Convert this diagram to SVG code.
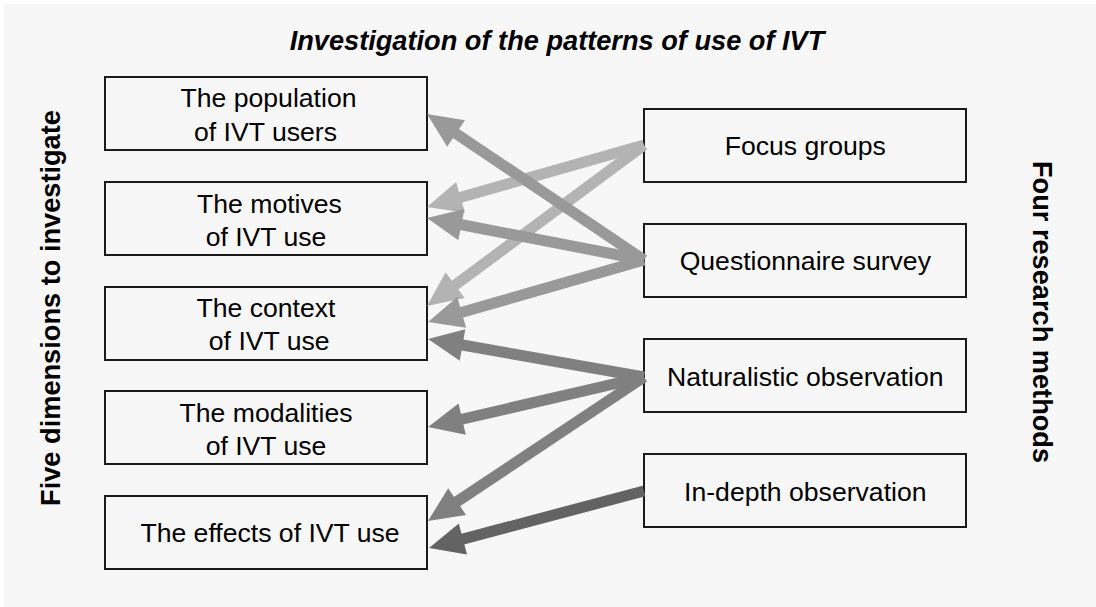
<svg xmlns="http://www.w3.org/2000/svg" width="1096" height="607" viewBox="0 0 1096 607">
<style>
.box{fill:#f7f7f7;stroke:#1a1a1a;stroke-width:2}
.t{font-family:"Liberation Sans",Arial,sans-serif;font-size:26.6px;fill:#000;text-anchor:middle}
.h{font-family:"Liberation Sans",Arial,sans-serif;font-size:27.2px;font-weight:bold;fill:#000;text-anchor:middle}
.c{fill:none;stroke-width:11;stroke-linecap:butt}
.c1{stroke:#b3b3b3}.c2{stroke:#999999}.c3{stroke:#808080}.c4{stroke:#636363}
</style>
<defs>
<marker id="a1" markerUnits="userSpaceOnUse" markerWidth="35" markerHeight="32" refX="6" refY="16" orient="auto" overflow="visible"><path d="M0,0 L35,16 L0,32 z" fill="#b3b3b3"/></marker>
<marker id="a2" markerUnits="userSpaceOnUse" markerWidth="35" markerHeight="32" refX="6" refY="16" orient="auto" overflow="visible"><path d="M0,0 L35,16 L0,32 z" fill="#999999"/></marker>
<marker id="a3" markerUnits="userSpaceOnUse" markerWidth="35" markerHeight="32" refX="6" refY="16" orient="auto" overflow="visible"><path d="M0,0 L35,16 L0,32 z" fill="#808080"/></marker>
<marker id="a4" markerUnits="userSpaceOnUse" markerWidth="35" markerHeight="32" refX="6" refY="16" orient="auto" overflow="visible"><path d="M0,0 L35,16 L0,32 z" fill="#636363"/></marker>
</defs>
<rect x="0" y="0" width="1096" height="607" fill="#ffffff"/>
<rect x="4" y="4" width="1092" height="603" fill="#f7f7f7"/>
<text class="h" x="557" y="50" font-style="italic">Investigation of the patterns of use of IVT</text>
<text class="h" transform="translate(60,308) rotate(-90)">Five dimensions to investigate</text>
<text class="h" transform="translate(1033,312) rotate(90)">Four research methods</text>
<g id="n-population"><rect class="box" x="105" y="77" width="322" height="73"/><text class="t" x="268.5" y="106.7">The population</text><text class="t" x="265.5" y="140.7">of IVT users</text></g>
<g id="n-motives"><rect class="box" x="105" y="182" width="322" height="73"/><text class="t" x="269.5" y="213.3">The motives</text><text class="t" x="266" y="245.7">of IVT use</text></g>
<g id="n-context"><rect class="box" x="105" y="287" width="322" height="73"/><text class="t" x="266" y="316.7">The context</text><text class="t" x="269.2" y="350">of IVT use</text></g>
<g id="n-modalities"><rect class="box" x="105" y="391" width="322" height="73"/><text class="t" x="266" y="421.7">The modalities</text><text class="t" x="266" y="455">of IVT use</text></g>
<g id="n-effects"><rect class="box" x="105" y="496" width="322" height="73"/><text class="t" x="270" y="541.7">The effects of IVT use</text></g>
<g id="n-focus"><rect class="box" x="644" y="109" width="322" height="73"/><text class="t" x="805.3" y="155">Focus groups</text></g>
<g id="n-questionnaire"><rect class="box" x="644" y="224" width="322" height="73"/><text class="t" x="805.3" y="270">Questionnaire survey</text></g>
<g id="n-naturalistic"><rect class="box" x="644" y="339" width="322" height="73"/><text class="t" x="805.3" y="385.5">Naturalistic observation</text></g>
<g id="n-indepth"><rect class="box" x="644" y="454" width="322" height="73"/><text class="t" x="805.3" y="500.5">In-depth observation</text></g>
<g id="connectors">
<line class="c c1" x1="644" y1="145" x2="454.8" y2="199.0" marker-end="url(#a1)"/>
<line class="c c1" x1="644" y1="145" x2="450.3" y2="288.7" marker-end="url(#a1)"/>
<line class="c c2" x1="644" y1="260" x2="451.1" y2="130.2" marker-end="url(#a2)"/>
<line class="c c2" x1="644" y1="260" x2="455.5" y2="223.5" marker-end="url(#a2)"/>
<line class="c c2" x1="644" y1="260" x2="455.9" y2="314.0" marker-end="url(#a2)"/>
<line class="c c3" x1="644" y1="377" x2="456.6" y2="344.0" marker-end="url(#a3)"/>
<line class="c c3" x1="644" y1="377" x2="456.3" y2="420.5" marker-end="url(#a3)"/>
<line class="c c3" x1="644" y1="377" x2="452.1" y2="504.9" marker-end="url(#a3)"/>
<line class="c c4" x1="644" y1="491" x2="457.1" y2="540.6" marker-end="url(#a4)"/>
</g>
</svg>
